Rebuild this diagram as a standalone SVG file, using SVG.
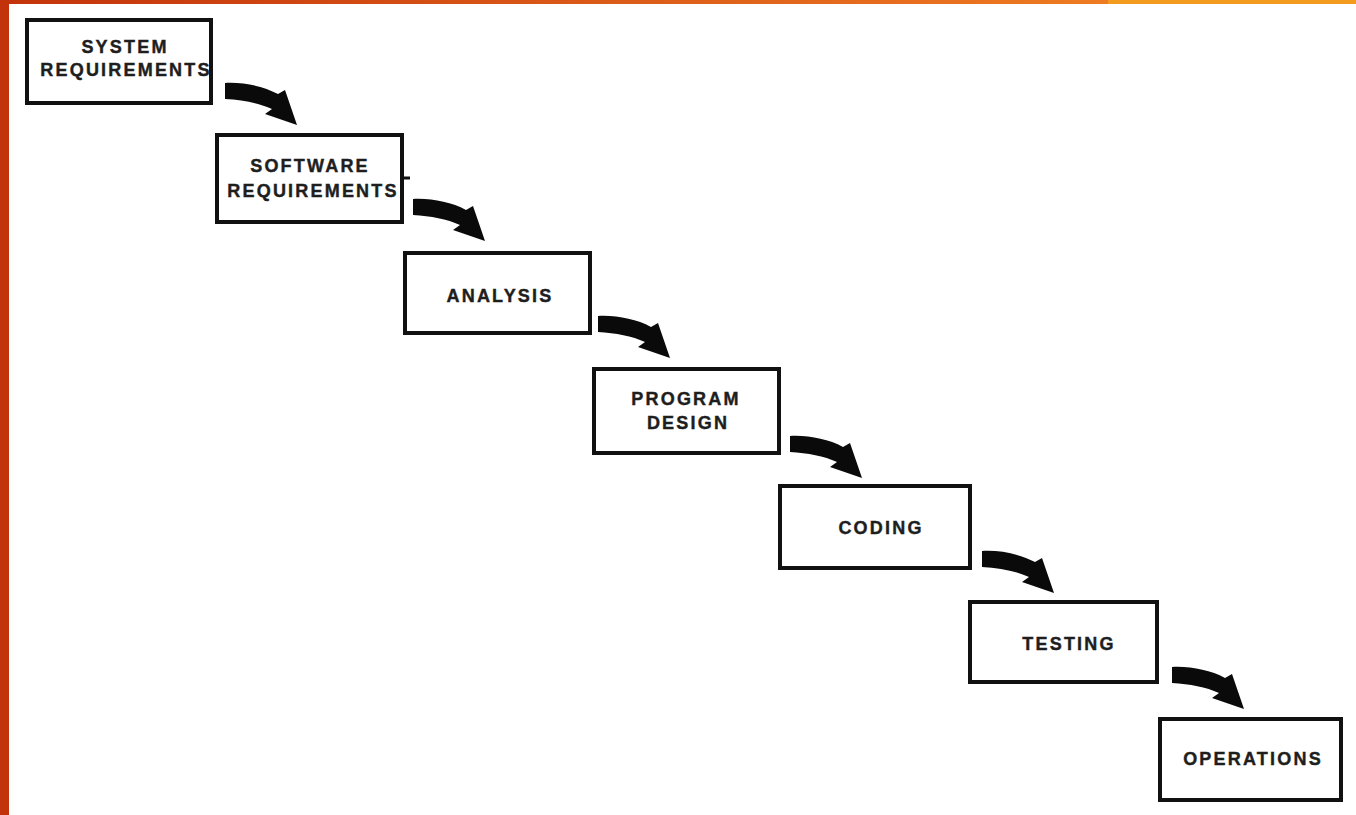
<svg xmlns="http://www.w3.org/2000/svg" width="1356" height="815" viewBox="0 0 1356 815">
<style>
.box{fill:#ffffff;stroke:#111;stroke-width:4}
.t{font-family:"Liberation Sans",Arial,sans-serif;font-weight:bold;font-size:18px;letter-spacing:2.2px;fill:#1e1e1e;stroke:#1e1e1e;stroke-width:0.4;text-anchor:middle}
.arr{fill:#0a0a0a}
</style>
<defs>
<linearGradient id="topg" x1="0" y1="0" x2="1" y2="0">
<stop offset="0" stop-color="#c3330b"/>
<stop offset="1" stop-color="#ee7b22"/>
</linearGradient>
<path id="arrow" d="M0,0 C18,-1 38,3 53,11 L60,7 L72,42 L40,31 L47,26 C34,20 18,17 0,16 Z"/>
</defs>
<rect x="0" y="0" width="1356" height="815" fill="#ffffff"/>
<rect x="0" y="0" width="1108" height="4" fill="url(#topg)"/>
<rect x="1108" y="0" width="248" height="4" fill="#f29b1e"/>
<rect x="0" y="0" width="9" height="815" fill="#c3330b"/>

<g id="connectors">
<use href="#arrow" class="arr" transform="translate(225,83)"/>
<use href="#arrow" class="arr" transform="translate(413,199)"/>
<use href="#arrow" class="arr" transform="translate(598,316)"/>
<use href="#arrow" class="arr" transform="translate(790,436)"/>
<use href="#arrow" class="arr" transform="translate(982,551)"/>
<use href="#arrow" class="arr" transform="translate(1172,667)"/>
</g>

<g id="system-requirements">
<rect class="box" x="27" y="20" width="184" height="83"/>
<text class="t" x="125" y="53">SYSTEM</text>
<text class="t" x="126" y="76">REQUIREMENTS</text>
</g>
<g id="software-requirements">
<rect class="box" x="217" y="135" width="185" height="87"/>
<line x1="402" y1="178" x2="410" y2="178" stroke="#111" stroke-width="3"/>
<text class="t" x="310" y="172">SOFTWARE</text>
<text class="t" x="313" y="197">REQUIREMENTS</text>
</g>
<g id="analysis">
<rect class="box" x="405" y="253" width="185" height="80"/>
<text class="t" x="500" y="302">ANALYSIS</text>
</g>
<g id="program-design">
<rect class="box" x="594" y="369" width="185" height="84"/>
<text class="t" x="686" y="405">PROGRAM</text>
<text class="t" x="688" y="429">DESIGN</text>
</g>
<g id="coding">
<rect class="box" x="780" y="486" width="190" height="82"/>
<text class="t" x="881" y="534">CODING</text>
</g>
<g id="testing">
<rect class="box" x="970" y="602" width="187" height="80"/>
<text class="t" x="1069" y="650">TESTING</text>
</g>
<g id="operations">
<rect class="box" x="1160" y="719" width="181" height="81"/>
<text class="t" x="1253" y="765">OPERATIONS</text>
</g>
</svg>
